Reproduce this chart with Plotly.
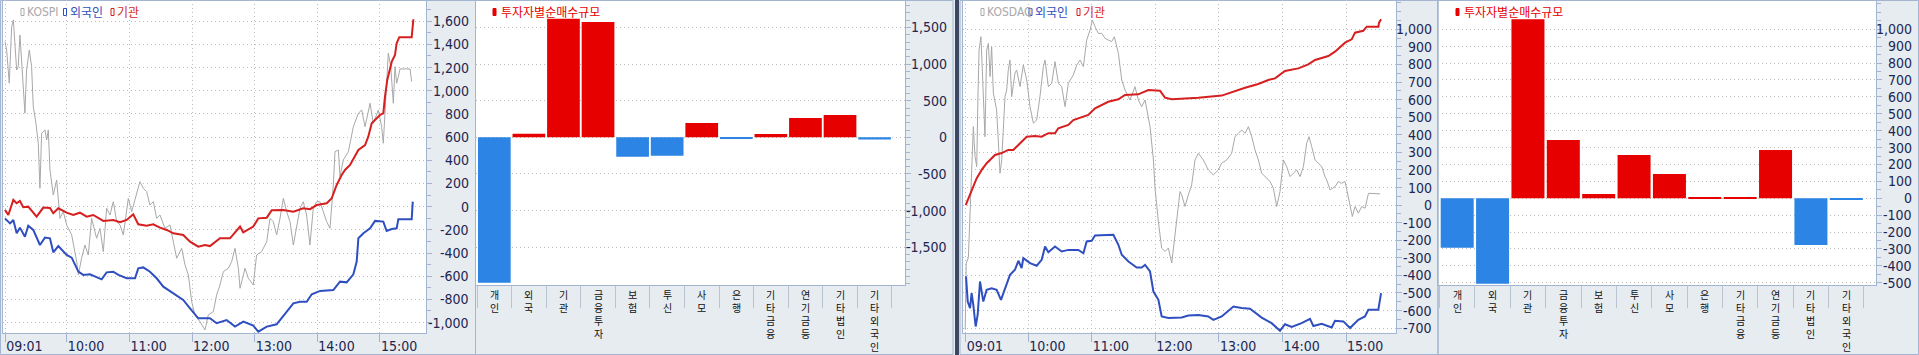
import plotly.graph_objects as go

W, H = 1919, 355

# ---------------- data ----------------
time_tick_vals = [1, 60, 120, 180, 240, 300, 360]          # minutes after 09:00
time_tick_text = ["09:01", "10:00", "11:00", "12:00", "13:00", "14:00", "15:00"]

# KOSPI panel (minutes after 09:00, values on the right axis scale)
kospi_idx_t = [0.7, 2.3, 4.8, 7.1, 8.7, 10.3, 11.9, 13.4, 15.0, 16.6, 18.2, 19.8, 21.4, 24.0, 26.2, 27.8,
               30.4, 32.6, 34.2, 35.8, 39.0, 40.6, 42.2, 43.8, 47.0, 48.6, 50.2, 53.4, 56.6, 59.8, 64.6,
               69.4, 71.0, 74.1, 77.3, 80.5, 83.7, 88.5, 91.7, 94.9, 98.1, 101.3, 104.5, 107.7, 110.9,
               114.1, 118.9, 122.1, 126.8, 130.0, 133.2, 136.4, 139.6, 142.8, 146.0, 149.2, 154.0, 158.8,
               162.0, 165.2, 170.0, 173.2, 176.4, 179.6, 182.7, 187.5, 192.3, 195.5, 200.3, 203.5, 206.7,
               209.9, 214.7, 217.9, 221.1, 224.3, 225.9, 230.7, 233.9, 238.6, 241.8, 246.6, 251.5, 254.6,
               257.8, 261.0, 264.2, 267.4, 270.6, 273.8, 277.0, 280.2, 283.4, 286.5, 289.7, 292.9, 296.1,
               299.3, 302.5, 305.7, 308.9, 312.1, 315.3, 316.9, 320.1, 321.7, 324.9, 329.7, 334.5, 339.3,
               342.5, 345.7, 350.5, 353.6, 358.4, 361.6, 363.2, 364.8, 366.4, 368.0, 370.3, 372.8, 374.4,
               376.0, 377.6, 379.2, 388.8, 390.4]
kospi_idx_v = [1424, 1352, 1066, 1553, 1611, 1352, 1179, 1208, 1481, 1266, 979, 806, 1179, 1352, 1208, 863,
               719, 547, 159, 633, 662, 575, 662, 317, 101, 159, 230, -101, -43, -158, -244,
               -474, -589, -445, -331, -417, -101, -273, -187, -388, -14, -72, 43, -129, -158,
               -244, 72, -43, 101, 216, 159, 130, 14, 43, -101, -72, -187, -158,
               -302, -445, -359, -503, -589, -820, -934, -992, -1064, -934, -906, -762, -676,
               -561, -532, -474, -359, -532, -704, -532, -618, -676, -417, -388, -302, -101,
               -129, -244, -101, 72, -43, -129, -331, -158, -14, 43, -72, -331, -14,
               43, 43, -43, -129, -187, 187, 474, 489, 259, 403, 474, 690, 806,
               834, 690, 892, 719, 834, 690, 547, 806, 1065, 1324, 1208, 892, 1208,
               1065, 1122, 1188, 1188, 1079]

kospi_frgn_t = [0.7, 5.5, 8.7, 11.9, 15.0, 19.8, 23.0, 27.8, 34.2, 39.0, 43.8, 47.0, 51.8, 59.8, 64.6, 71.0,
                75.7, 82.1, 93.3, 98.1, 104.5, 109.3, 117.3, 125.3, 128.4, 133.2, 139.6, 146.0, 152.4,
                162.0, 171.5, 178.0, 185.9, 197.1, 203.5, 213.1, 221.1, 229.1, 238.6, 243.4, 251.5, 261.0,
                270.6, 277.0, 283.4, 289.8, 294.6, 302.6, 315.3, 321.7, 328.1, 334.5, 337.7, 339.3, 344.1,
                350.5, 355.3, 363.2, 366.4, 371.3, 376.0, 377.6, 390.4, 391.4]
kospi_frgn_v = [-101, -144, -115, -230, -181, -259, -164, -201, -331, -267, -273, -394, -340, -417, -440, -561,
                -589, -584, -627, -567, -561, -589, -618, -618, -532, -524, -561, -618, -690,
                -748, -805, -877, -963, -963, -1006, -978, -1035, -992, -1026, -1078, -1035, -1015,
                -906, -834, -820, -820, -756, -727, -719, -647, -653, -584, -474, -273, -230,
                -187, -123, -129, -210, -193, -187, -109, -109, 43]

kospi_inst_t = [0.7, 3.9, 8.7, 11.9, 15.0, 18.2, 23.0, 31.0, 37.4, 43.8, 47.0, 51.8, 59.8, 66.1, 72.5, 79.0,
                85.3, 94.9, 104.5, 110.9, 117.3, 123.6, 128.4, 136.5, 142.8, 149.2, 155.6, 162.0, 171.5,
                178.0, 185.9, 192.3, 197.1, 206.7, 216.3, 225.9, 229.0, 238.6, 243.4, 251.5, 256.3, 267.4,
                277.0, 286.5, 293.0, 299.4, 309.0, 313.8, 318.5, 321.7, 323.3, 326.5, 331.3, 339.3, 345.7,
                348.8, 352.1, 360.0, 363.2, 364.8, 367.0, 371.3, 374.4, 376.0, 378.5, 390.4, 391.4, 392.0]
kospi_inst_v = [-28, -72, 58, 29, 49, -5, 0, -86, -8, -11, -57, -14, -52, -72, -52, -86,
                -72, -123, -115, -135, -115, -66, -152, -164, -152, -181, -201, -230, -244,
                -302, -345, -331, -340, -273, -273, -172, -221, -172, -101, -95, -31, -28,
                -43, -14, -22, 14, 29, 72, 187, 245, 273, 317, 360, 489, 532,
                604, 719, 791, 806, 949, 1093, 1251, 1309, 1410, 1462, 1462, 1539, 1617]

# KOSDAQ panel
kosdaq_idx_t = [0.5, 1.5, 3.5, 5.5, 6.6, 8.2, 9.8, 11.4, 12.5, 13.6, 15.4, 17.7, 19.2, 20.8, 22.4, 24.0, 25.5,
                27.1, 30.2, 33.4, 35.0, 38.1, 39.7, 41.2, 42.8, 44.4, 45.9, 47.5, 49.1, 52.3, 55.4, 58.6,
                61.7, 64.9, 68.0, 71.1, 74.3, 75.9, 79.0, 82.2, 85.3, 88.5, 91.6, 94.8, 97.9, 102.6, 105.8,
                108.9, 112.1, 115.2, 118.4, 120.6, 123.1, 126.2, 129.4, 132.5, 135.7, 138.8, 141.3, 145.1,
                148.3, 151.4, 156.1, 160.8, 164.0, 167.1, 170.3, 172.8, 175.0, 178.2, 179.7, 182.9, 186.0,
                189.2, 192.3, 195.5, 198.6, 203.3, 204.9, 208.0, 211.2, 214.3, 217.5, 220.6, 225.3, 230.1,
                234.8, 239.5, 242.6, 247.4, 252.1, 255.2, 258.4, 261.5, 264.7, 267.8, 271.0, 274.1, 277.3,
                280.4, 282.0, 288.3, 291.4, 294.6, 297.7, 299.3, 300.9, 304.0, 307.2, 310.3, 313.5, 316.6,
                319.8, 322.9, 325.1, 327.6, 330.8, 333.9, 337.1, 340.2, 341.8, 345.0, 349.7, 352.8, 356.0,
                359.1, 362.3, 366.0, 368.6, 371.7, 374.9, 378.0, 381.2, 392.2]
kosdaq_idx_v = [-709, -330, -300, 30, 143, 446, 276, 219, 600, 882, 958, 655, 389, 882, 920, 731, 901,
                636, 541, 181, 257, 617, 655, 769, 825, 617, 693, 750, 769, 674, 797, 712,
                560, 466, 484, 617, 788, 825, 674, 693, 816, 693, 674, 560, 693, 740, 797,
                825, 788, 939, 996, 1053, 1015, 977, 977, 949, 939, 930, 958, 864,
                712, 655, 598, 674, 598, 560, 598, 503, 446, 257, 96, -94, -245,
                -264, -245, -330, -169, 77, 58, -8, 58, 115, 257, 295, 257, 200,
                172, 200, 238, 257, 295, 389, 408, 427, 408, 446, 389, 314, 257,
                181, 172, 134, 96, -8, 77, 172, 257, 219, 162, 181, 200, 162,
                219, 352, 389, 333, 257, 238, 219, 162, 143, 86, 105, 134, 124,
                134, 39, -65, -8, -46, -8, -18, 67, 64]

kosdaq_frgn_t = [1.3, 2.9, 5.1, 6.6, 8.2, 10.4, 12.3, 14.5, 17.6, 20.8, 25.5, 30.2, 34.3, 38.1, 42.8, 47.5,
                 50.7, 53.8, 55.4, 61.7, 68.0, 72.7, 75.9, 79.0, 85.3, 91.6, 97.9, 107.3, 112.1, 115.2,
                 119.9, 123.1, 132.5, 140.4, 145.1, 148.3, 154.6, 162.4, 167.2, 170.3, 175.0, 178.2, 182.9,
                 186.0, 192.3, 204.9, 211.2, 220.6, 230.0, 234.8, 242.7, 253.7, 261.5, 269.4, 280.4, 289.8,
                 297.7, 302.4, 308.7, 318.1, 326.0, 329.2, 337.0, 346.5, 349.6, 357.5, 363.8, 371.6, 377.9,
                 381.1, 390.5, 393.1]
kosdaq_frgn_v = [-406, -549, -586, -501, -569, -691, -624, -435, -549, -482, -473, -482, -539, -473, -397, -368,
                 -317, -358, -302, -330, -345, -312, -236, -268, -236, -264, -255, -255, -274, -207,
                 -203, -173, -173, -169, -226, -283, -321, -355, -355, -340, -378, -492, -539,
                 -634, -643, -640, -628, -625, -634, -653, -634, -577, -586, -590, -640, -672,
                 -715, -678, -694, -672, -648, -688, -675, -696, -658, -662, -700, -653, -634,
                 -596, -596, -501]

kosdaq_inst_t = [1.0, 7.0, 11.4, 16.1, 20.8, 28.7, 35.0, 41.2, 45.9, 50.7, 58.6, 66.4, 72.7, 79.0, 85.3, 88.4,
                 97.9, 102.6, 110.5, 116.7, 123.1, 129.4, 135.6, 145.1, 151.4, 163.9, 173.4, 184.4, 189.1,
                 195.5, 211.1, 220.6, 242.7, 255.2, 264.7, 277.2, 286.7, 293.0, 302.4, 315.0, 324.4, 330.8,
                 343.3, 349.6, 359.1, 365.4, 368.5, 376.3, 379.6, 390.6, 391.2, 393.1]
kosdaq_inst_v = [0, 86, 153, 200, 238, 285, 296, 314, 314, 342, 389, 393, 389, 409, 409, 437,
                 456, 484, 500, 513, 551, 570, 588, 602, 627, 630, 655, 651, 611,
                 602, 606, 611, 623, 651, 668, 689, 712, 721, 763, 778, 801, 826,
                 848, 873, 924, 943, 981, 992, 1015, 1015, 1038, 1057]

investor_types = ["개인", "외국", "기관", "금융투자", "보험", "투신", "사모", "은행",
                  "기타금융", "연기금등", "기타법인", "기타외국인"]
kospi_net = [-1985, 49, 1617, 1572, -264, -250, 195, -15, 45, 263, 304, -30]
kosdaq_net = [-292, -505, 1059, 345, 25, 256, 144, 4, 3, 286, -276, -10]

kospi_y_ticks = list(range(-1000, 1601, 200))
kospi_bar_y_ticks = [-1500, -1000, -500, 0, 500, 1000, 1500]
kosdaq_y_ticks = list(range(-700, 1001, 100))
kosdaq_bar_y_ticks = list(range(-500, 1001, 100))

# ---------------- style ----------------
BG = "#e7ecf1"
BORDER = "#a3b5d0"
GRID = "#bdbdbd"
GRID_DASH = "1px,3px"
TXT = "#1c2650"
RED = "#d61f1f"
BLUE = "#2f4fc0"
GRAY = "#a8a8a8"
BAR_RED = "#e60000"
BAR_BLUE = "#2c84e4"
NUM_FONT = "Liberation Sans Narrow, Arial Narrow, DejaVu Sans Condensed, Liberation Sans"
KR_FONT = "Noto Sans CJK KR"


def px(x):
    return x / W


def py(y):
    return 1 - y / H


fig = go.Figure()

# line panels
fig.add_trace(go.Scatter(x=kospi_idx_t, y=kospi_idx_v, mode="lines", line=dict(color=GRAY, width=1),
                         xaxis="x", yaxis="y", hoverinfo="skip"))
fig.add_trace(go.Scatter(x=kospi_inst_t, y=kospi_inst_v, mode="lines", line=dict(color=RED, width=2),
                         xaxis="x", yaxis="y"))
fig.add_trace(go.Scatter(x=kospi_frgn_t, y=kospi_frgn_v, mode="lines", line=dict(color=BLUE, width=2),
                         xaxis="x", yaxis="y"))

fig.add_trace(go.Scatter(x=kosdaq_idx_t, y=kosdaq_idx_v, mode="lines", line=dict(color=GRAY, width=1),
                         xaxis="x3", yaxis="y3", hoverinfo="skip"))
fig.add_trace(go.Scatter(x=kosdaq_inst_t, y=kosdaq_inst_v, mode="lines", line=dict(color=RED, width=2),
                         xaxis="x3", yaxis="y3"))
fig.add_trace(go.Scatter(x=kosdaq_frgn_t, y=kosdaq_frgn_v, mode="lines", line=dict(color=BLUE, width=2),
                         xaxis="x3", yaxis="y3"))

# bar panels
fig.add_trace(go.Bar(x=investor_types, y=kospi_net, width=0.946,
                     marker=dict(color=[BAR_RED if v >= 0 else BAR_BLUE for v in kospi_net], line=dict(width=0)),
                     xaxis="x2", yaxis="y2"))
fig.add_trace(go.Bar(x=investor_types, y=kosdaq_net, width=0.933,
                     marker=dict(color=[BAR_RED if v >= 0 else BAR_BLUE for v in kosdaq_net], line=dict(width=0)),
                     xaxis="x4", yaxis="y4"))


def yax(domain_bottom_px, rng, ticks, minor_dtick, anchor):
    return dict(domain=[py(domain_bottom_px), 1], range=rng, side="right", anchor=anchor,
                tickmode="array", tickvals=ticks, showticklabels=False,
                ticks="outside", ticklen=5, tickcolor=BORDER,
                minor=dict(ticks="outside", ticklen=4, dtick=minor_dtick, tick0=0, tickcolor=BORDER,
                           showgrid=False),
                showgrid=True, gridcolor=GRID, griddash=GRID_DASH, gridwidth=1,
                zeroline=False, showline=True, linecolor=BORDER, linewidth=1, mirror=True,
                fixedrange=True)


def xline(domain, rng, anchor):
    return dict(domain=domain, range=rng, anchor=anchor, tickmode="array",
                tickvals=time_tick_vals, ticktext=time_tick_text,
                ticks="outside", ticklen=8, tickcolor=BORDER,
                ticklabelposition="outside right",
                tickfont=dict(family=NUM_FONT, size=14, color=TXT),
                showgrid=True, gridcolor=GRID, griddash=GRID_DASH, gridwidth=1,
                zeroline=False, showline=True, linecolor=BORDER, linewidth=1, mirror=True)


def xbar(domain, rng, anchor):
    return dict(domain=domain, range=rng, anchor=anchor, type="category",
                categoryorder="array", categoryarray=investor_types,
                tickmode="array", tickvals=investor_types, showticklabels=False,
                ticks="outside", ticklen=22, tickcolor="#b9c4d2", tickson="boundaries",
                showgrid=False, zeroline=False, showline=True, linecolor=BORDER, linewidth=1, mirror=True)


fig.update_layout(
    width=W, height=H, margin=dict(l=0, r=0, t=0, b=0),
    paper_bgcolor=BG, plot_bgcolor="white", showlegend=False,
    xaxis=xline([px(3), px(426)], [-1.2, 404.1], "y"),
    yaxis=yax(333, [-1090, 1783], kospi_y_ticks, 100, "x"),
    xaxis2=xbar([px(476), px(905)], [-0.53, 11.88], "y2"),
    yaxis2=yax(285, [-2014, 1873], kospi_bar_y_ticks, 100, "x2"),
    xaxis3=xline([px(963), px(1396)], [-1.55, 407.2], "y3"),
    yaxis3=yax(333, [-728, 1167], kosdaq_y_ticks, 50, "x3"),
    xaxis4=xbar([px(1438), px(1876)], [-0.543, 11.84], "y4"),
    yaxis4=yax(285, [-513, 1173], kosdaq_bar_y_ticks, 50, "x4"),
)

annotations = []
# right-aligned y tick labels
for ticks, yref, xr in [(kospi_y_ticks, "y", 471), (kospi_bar_y_ticks, "y2", 949),
                        (kosdaq_y_ticks, "y3", 1434), (kosdaq_bar_y_ticks, "y4", 1914)]:
    for v in ticks:
        annotations.append(dict(x=px(xr), xref="paper", y=v, yref=yref, text=f"{v:,}",
                                showarrow=False, xanchor="right", yanchor="middle",
                                font=dict(family=NUM_FONT, size=14, color=TXT)))

# vertical (stacked) category labels under the bar charts
for xref in ["x2", "x4"]:
    for name in investor_types:
        annotations.append(dict(x=name, xref=xref, y=py(286), yref="paper", text="<br>".join(name),
                                showarrow=False, xanchor="center", yanchor="top", borderpad=0,
                                font=dict(family=KR_FONT, size=10, color="#111111")))

# legends
shapes = []
legend_items = [
    # (marker x0, marker x1, filled, color, text x, text, text color, font)
    (21, 24, False, GRAY, 25, "KOSPI", GRAY, NUM_FONT),
    (63.5, 66.5, False, BLUE, 67.5, "외국인", BLUE, KR_FONT),
    (111, 114, False, RED, 115, "기관", RED, KR_FONT),
    (493, 496, True, BAR_RED, 499, "투자자별순매수규모", BAR_RED, KR_FONT),
    (981, 984, False, GRAY, 985, "KOSDAQ", GRAY, NUM_FONT),
    (1029, 1032, False, BLUE, 1033, "외국인", BLUE, KR_FONT),
    (1077, 1080, False, RED, 1081, "기관", RED, KR_FONT),
    (1456, 1459, True, BAR_RED, 1462, "투자자별순매수규모", BAR_RED, KR_FONT),
]
for x0, x1, filled, col, tx, text, tcol, fam in legend_items:
    shapes.append(dict(type="rect", xref="paper", yref="paper", x0=px(x0), x1=px(x1), y0=py(15.5), y1=py(8.5),
                       line=dict(color=col, width=1), fillcolor=col if filled else "rgba(0,0,0,0)"))
    annotations.append(dict(x=px(tx), xref="paper", y=py(12), yref="paper", text=text, showarrow=False,
                            xanchor="left", yanchor="middle",
                            font=dict(family=fam, size=12 if fam == KR_FONT else 12, color=tcol)))

# panel frames and separator
for x0, x1 in [(0.5, 475.5), (475.5, 953), (960, 1438), (1438, 1918.5)]:
    shapes.append(dict(type="rect", xref="paper", yref="paper", x0=px(x0), x1=px(x1), y0=py(354.5), y1=py(0.5),
                       line=dict(color=BORDER, width=1), fillcolor="rgba(0,0,0,0)", layer="below"))
shapes.append(dict(type="rect", xref="paper", yref="paper", x0=px(955), x1=px(959), y0=0, y1=1,
                   line=dict(width=0), fillcolor="#3b4763"))

fig.update_layout(annotations=annotations, shapes=shapes)

fig.write_html("out.html")
